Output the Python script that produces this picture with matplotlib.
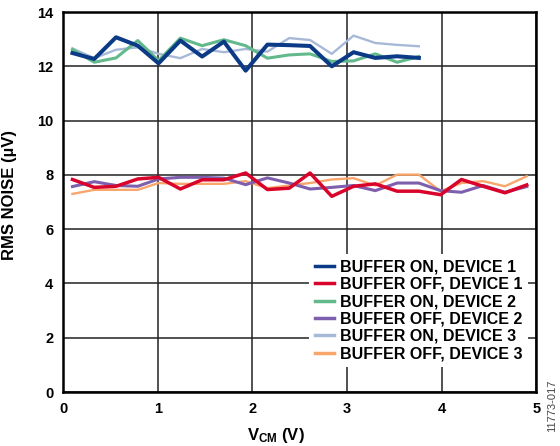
import matplotlib.pyplot as plt

plt.rcParams['font.family'] = ['Liberation Sans', 'DejaVu Sans']
plt.rcParams['mathtext.fontset'] = 'custom'
plt.rcParams['mathtext.rm'] = 'Liberation Sans:bold'
plt.rcParams['mathtext.bf'] = 'Liberation Sans:bold'
plt.rcParams['mathtext.it'] = 'Liberation Sans:bold'

# common-mode voltage points (V)
vcm = [0.10, 0.33, 0.56, 0.79, 1.01, 1.24, 1.47, 1.70, 1.93, 2.16, 2.39,
       2.61, 2.84, 3.07, 3.30, 3.53, 3.76, 3.99, 4.21, 4.44, 4.67, 4.90]

# buffer on runs stop at 3.76 V (first 17 points)
on_dev1 = [12.49, 12.27, 13.07, 12.76, 12.11, 12.95, 12.36, 12.91, 11.84,
           12.80, 12.78, 12.75, 12.00, 12.52, 12.31, 12.37, 12.31]
on_dev2 = [12.62, 12.15, 12.31, 12.95, 12.21, 13.04, 12.76, 12.98, 12.76,
           12.30, 12.42, 12.46, 12.18, 12.20, 12.46, 12.15, 12.36]
on_dev3 = [12.66, 12.30, 12.61, 12.70, 12.46, 12.30, 12.64, 12.52, 12.64,
           12.54, 13.04, 12.97, 12.46, 13.13, 12.86, 12.79, 12.74]

off_dev1 = [7.83, 7.54, 7.58, 7.85, 7.91, 7.48, 7.82, 7.82, 8.07, 7.46, 7.51,
            8.07, 7.21, 7.58, 7.67, 7.40, 7.40, 7.27, 7.83, 7.58, 7.34, 7.63]
off_dev2 = [7.57, 7.75, 7.61, 7.58, 7.85, 7.91, 7.91, 7.88, 7.64, 7.89, 7.70,
            7.48, 7.54, 7.61, 7.42, 7.70, 7.70, 7.42, 7.36, 7.61, 7.36, 7.57]
off_dev3 = [7.30, 7.45, 7.45, 7.45, 7.70, 7.67, 7.67, 7.67, 7.77, 7.51, 7.61,
            7.70, 7.83, 7.88, 7.61, 8.01, 8.01, 7.40, 7.70, 7.77, 7.58, 7.95]

fig = plt.figure(figsize=(5.6, 4.46), dpi=100)
ax = fig.add_axes([0.1125, 0.121, 0.845, 0.852])

n_on = len(on_dev1)
ax.plot(vcm[:n_on], on_dev1, color='#0b3a86', lw=2.9, label='BUFFER ON, DEVICE 1', zorder=6)
ax.plot(vcm, off_dev1, color='#d9042b', lw=2.5, label='BUFFER OFF, DEVICE 1', zorder=6)
ax.plot(vcm[:n_on], on_dev2, color='#62b98c', lw=2.2, label='BUFFER ON, DEVICE 2', zorder=5)
ax.plot(vcm, off_dev2, color='#7d5fae', lw=2.2, label='BUFFER OFF, DEVICE 2', zorder=5)
ax.plot(vcm[:n_on], on_dev3, color='#a8b9d8', lw=1.7, label='BUFFER ON, DEVICE 3', zorder=4)
ax.plot(vcm, off_dev3, color='#f9a66c', lw=1.7, label='BUFFER OFF, DEVICE 3', zorder=4)

ax.set_xlim(0, 5)
ax.set_ylim(0, 14)
ax.set_xticks(range(0, 6))
ax.set_yticks(range(0, 15, 2))
ax.grid(True, color='#222222', lw=1.1)
ax.set_axisbelow(True)
ax.tick_params(length=0, labelsize=10.5, pad=7)
for lab in ax.get_xticklabels() + ax.get_yticklabels():
    lab.set_fontweight('bold')
for s in ax.spines.values():
    s.set_linewidth(1.8)
    s.set_zorder(10)

ax.set_ylabel('RMS NOISE (µV)', fontsize=12, fontweight='bold')
ax.yaxis.set_label_coords(-0.097, 0.518)
ax.set_xlabel(r'$\mathregular{V_{CM}}$ (V)', fontsize=12, fontweight='bold')
ax.xaxis.set_label_coords(0.45, -0.09)

leg = ax.legend(loc='lower right', bbox_to_anchor=(0.983, 0.066),
                prop={'weight': 'bold', 'size': 11.5}, frameon=True, fancybox=False,
                edgecolor='none', facecolor='white', framealpha=1.0,
                handlelength=1.25, handletextpad=0.35, labelspacing=0.15,
                borderpad=0.35, borderaxespad=0.0)
leg.set_zorder(8)
for h in leg.get_lines():
    h.set_linewidth(2.5)

fig.text(0.986, 0.031, '11773-017', rotation=90, fontsize=8, color='#444444',
         ha='center', va='bottom')

fig.savefig('out.png', dpi=100)
